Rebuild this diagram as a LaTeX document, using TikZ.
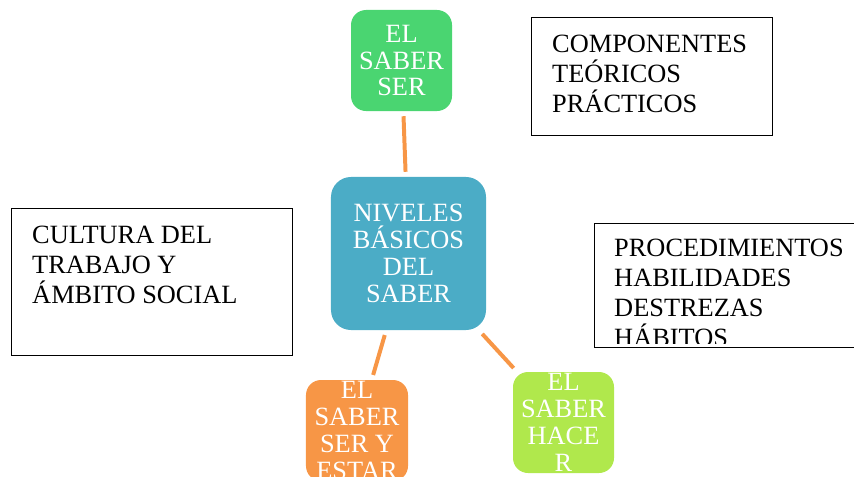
\documentclass[tikz,border=0pt]{standalone}
\usepackage{fontspec}
\setmainfont{Liberation Serif}
\usepackage{xcolor}
\usepackage{tikz}
\usetikzlibrary{positioning}
\definecolor{nivelBlue}{HTML}{4BACC6}
\definecolor{serGreen}{HTML}{4AD571}
\definecolor{estarOrange}{HTML}{F79646}
\definecolor{hacerLime}{HTML}{B0E84C}
\definecolor{linkOrange}{HTML}{F79646}
\tikzset{
  levelBox/.style={
    rectangle,
    rounded corners=0.45cm,
    text=white,
    inner sep=0pt,
    align=center,
    minimum width=3.03cm,
    minimum height=3.03cm,
    font=\fontsize{22.5}{23}\selectfont
  },
  topicBox/.style={
    rectangle,
    draw=black,
    line width=0.8pt,
    inner sep=0pt,
    anchor=north west
  },
  topicText/.style={
    inner sep=0pt,
    align=left,
    font=\fontsize{22.5}{25.5}\selectfont
  },
  linkLine/.style={
    draw=linkOrange,
    line width=3.4pt,
    shorten <=0.15cm,
    shorten >=0.15cm
  }
}

\begin{document}
\begin{tikzpicture}[x=0.03cm,y=-0.03cm]
        \useasboundingbox (0,0) rectangle (854,477);

        \node[levelBox, fill=nivelBlue, minimum width=4.65cm, minimum height=4.59cm, rounded corners=0.6cm] (niveles) at (408.5,253.5) {NIVELES\\BÁSICOS\\DEL\\SABER};
        \node[levelBox, fill=serGreen] (saberSer) at (401.5,60.5) {EL\\SABER\\SER};
        \node[levelBox, fill=estarOrange, minimum width=3.06cm] (saberSerEstar) at (357,430.5) {EL\\SABER\\SER Y\\ESTAR};
        \node[levelBox, fill=hacerLime] (saberHacer) at (563.5,422.5) {EL\\SABER\\HACE\\R};

        \draw[linkLine] (saberSer) -- (niveles);
        \draw[linkLine] (niveles) -- (saberSerEstar);
        \draw[linkLine] (niveles) -- (saberHacer);

        \node[topicBox, minimum width=7.23cm, minimum height=3.54cm] (componentes) at (531,17) {};
        \node[topicText, below right=0.54cm and 0.63cm of componentes.north west] (componentesText) {COMPONENTES\\TEÓRICOS\\PRÁCTICOS};

        \node[topicBox, minimum width=8.43cm, minimum height=4.41cm] (cultura) at (11,208) {};
        \node[topicText, below right=0.54cm and 0.63cm of cultura.north west] (culturaText) {CULTURA DEL\\TRABAJO Y\\ÁMBITO SOCIAL};

        \node[topicBox, minimum width=7.98cm, minimum height=3.72cm] (procedimientos) at (594,223) {};
        \begin{scope}
            \clip (594,223) rectangle (860,343);
            \node[topicText, below right=0.48cm and 0.6cm of procedimientos.north west] (procedimientosText) {PROCEDIMIENTOS\\HABILIDADES\\DESTREZAS\\HÁBITOS};
        \end{scope}
    \end{tikzpicture}
\end{document}
